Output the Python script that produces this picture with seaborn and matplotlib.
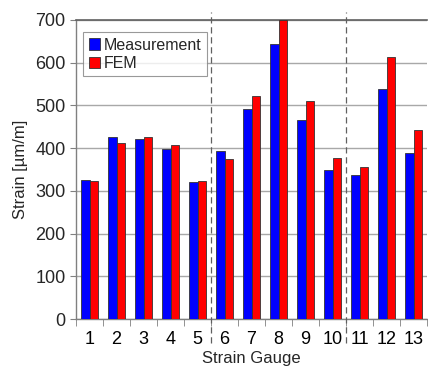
import numpy as np
import pandas as pd
import matplotlib
matplotlib.use('Agg')
import matplotlib.pyplot as plt
import matplotlib.transforms as mtransforms
import seaborn as sns

gauges = [str(i) for i in range(1, 14)]
measurement = [326, 427, 421, 397, 320, 393, 491, 643, 466, 349, 338, 538, 389]
fem = [324, 412, 427, 408, 324, 375, 523, 700, 510, 376, 357, 614, 443]

df = pd.DataFrame({
    'gauge': gauges * 2,
    'strain': measurement + fem,
    'series': ['Measurement'] * len(gauges) + ['FEM'] * len(gauges),
})

sns.set_style('white')
plt.rcParams['font.family'] = ['Liberation Sans', 'DejaVu Sans']

fig = plt.figure(figsize=(4.28, 3.66), dpi=100)
ax = fig.add_axes([76 / 428, 1 - 319 / 366, 351 / 428, 299 / 366])

sns.barplot(data=df, x='gauge', y='strain', hue='series',
            palette={'Measurement': '#0000ff', 'FEM': '#ff0000'}, saturation=1,
            width=0.6, edgecolor='#333333', linewidth=0.6, ax=ax, zorder=3)

ax.set_xlim(-0.5, 12.5)
ax.set_ylim(0, 700)
ax.set_yticks(range(0, 701, 100))
ax.yaxis.grid(True, color='#a8a8a8', linewidth=1.0, zorder=0)
ax.set_axisbelow(True)

# ticks between the gauges
ax.set_xticks(np.arange(-0.5, 13, 1), minor=True)
ax.tick_params(axis='x', which='major', length=0, labelsize=13, pad=9, colors='black')
ax.tick_params(axis='x', which='minor', length=5, color='#808080', direction='out', bottom=True)
ax.tick_params(axis='y', length=4, color='#808080', direction='out', labelsize=13, left=True)

for side in ['left', 'bottom']:
    ax.spines[side].set_color('#808080')
    ax.spines[side].set_linewidth(1.0)
ax.spines['top'].set_color('#606060')
ax.spines['top'].set_linewidth(1.2)
ax.spines['right'].set_visible(False)

ax.set_xlabel('Strain Gauge', fontsize=12, labelpad=2)
ax.set_ylabel('Strain [µm/m]', fontsize=12, labelpad=5)

# dashed separators between gauge groups
trans = mtransforms.blended_transform_factory(ax.transData, ax.transAxes)
for xs in [4.5, 9.5]:
    ax.plot([xs, xs], [-0.08, 1.027], transform=trans, color='#606060',
            linestyle=(0, (5, 3)), linewidth=0.9, clip_on=False, zorder=4)

leg = ax.legend(loc='upper left', bbox_to_anchor=(0.02, 0.96), fontsize=11.5,
                frameon=True, fancybox=False, edgecolor='#808080',
                handlelength=0.7, handleheight=0.7, handletextpad=0.25,
                borderpad=0.35, labelspacing=0.2, borderaxespad=0)
leg.get_frame().set_linewidth(0.8)
leg.set_title(None)

fig.savefig('out.png', dpi=100)
